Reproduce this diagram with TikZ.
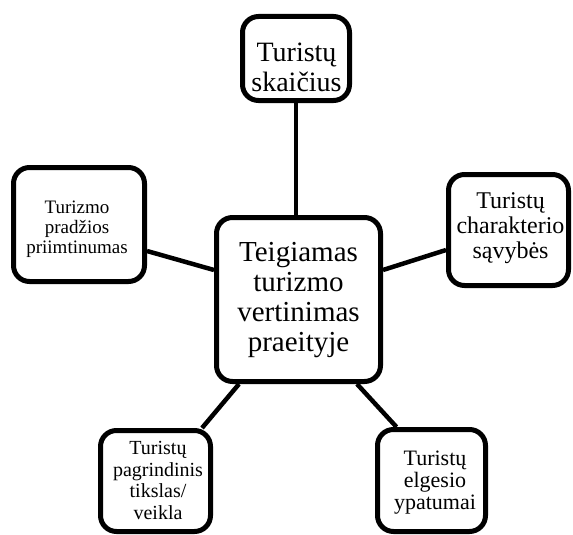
\documentclass[tikz,border=0pt]{standalone}
\usepackage{fontspec}
\setmainfont{Liberation Serif}
\usetikzlibrary{backgrounds}
\begin{document}
\begin{tikzpicture}[x=1pt,y=-1pt,
  box/.style={draw,line width=5pt,rounded corners=16pt,fill=white,inner sep=0pt},
  conn/.style={line width=4.5pt},
  lbl/.style={align=center,inner sep=0pt}]
\useasboundingbox (0,0) rectangle (573,535);
\node[box,minimum width=107pt,minimum height=84pt] (top) at (296,58.5) {};
\node[box,minimum width=131pt,minimum height=114pt] (left) at (79,224.5) {};
\node[box,minimum width=120pt,minimum height=111pt] (right) at (508.5,230) {};
\node[box,minimum width=164pt,minimum height=164pt] (center) at (298.5,299.5) {};
\node[box,minimum width=110pt,minimum height=101pt] (bl) at (155.5,481) {};
\node[box,minimum width=108pt,minimum height=102pt] (br) at (431.5,480.5) {};

\node[lbl,font=\fontsize{28pt}{30pt}\selectfont] (topT) at (296.5,67) {Turistų\\skaičius};
\node[lbl,font=\fontsize{19pt}{20pt}\selectfont] (leftT) at (77,229.5) {Turizmo\\pradžios\\priimtinumas};
\node[lbl,font=\fontsize{24pt}{25pt}\selectfont] (rightT) at (510.5,228.5) {Turistų\\charakterio\\sąvybės};
\node[lbl,font=\fontsize{29pt}{30pt}\selectfont] (centerT) at (298.5,300) {Teigiamas\\turizmo\\vertinimas\\praeityje};
\node[lbl,font=\fontsize{20pt}{21.5pt}\selectfont] (blT) at (158,480.5) {Turistų\\pagrindinis\\tikslas/\\veikla};
\node[lbl,font=\fontsize{22pt}{22pt}\selectfont] (brT) at (435,482.5) {Turistų\\elgesio\\ypatumai};

\begin{scope}[on background layer]
\draw[conn] (top.center) -- (top.center |- center.center);
\draw[conn] ([yshift=-26.5pt]left.east) -- ([yshift=29.5pt]center.west);
\draw[conn] ([yshift=29.5pt]center.east) -- ([yshift=-20pt]right.west);
\draw[conn] ([xshift=-59.5pt]center.south) -- ([xshift=46.5pt]bl.north);
\draw[conn] ([xshift=58.5pt]center.south) -- ([xshift=-35pt]br.north);
\end{scope}
\end{tikzpicture}
\end{document}
